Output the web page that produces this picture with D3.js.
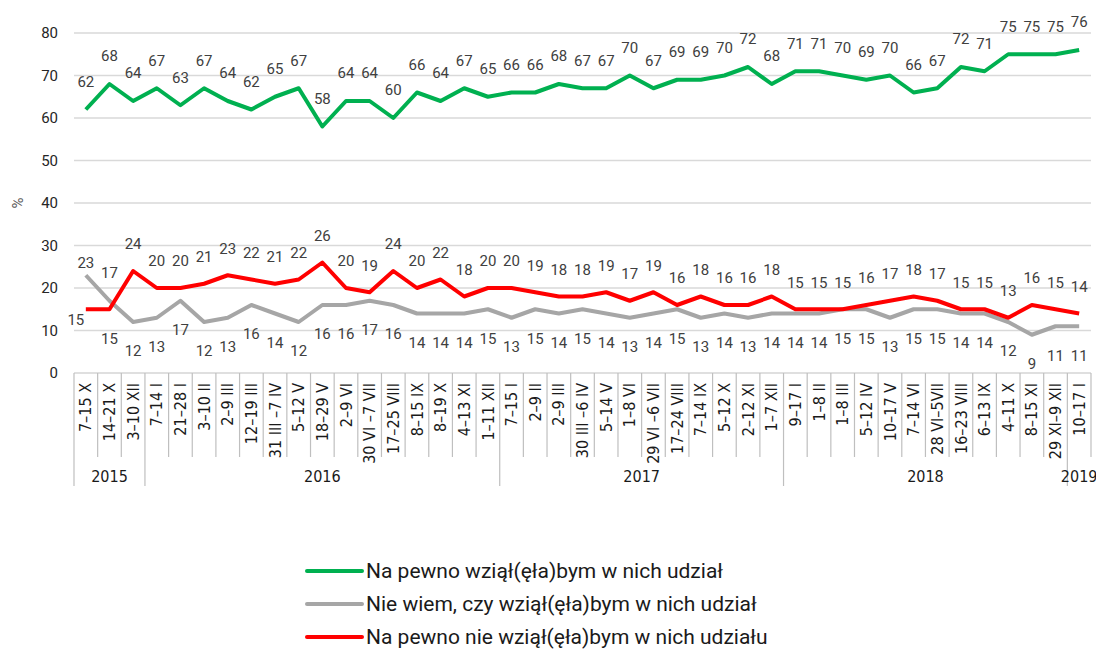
<!DOCTYPE html>
<html>
<head>
<meta charset="utf-8">
<script src="https://cdn.jsdelivr.net/npm/d3@7"></script>
<style>
  body { margin: 0; background: #fff; }
  svg { display: block; }
  .narrow { font-family: "Liberation Sans Narrow", "DejaVu Sans Condensed", "Roboto Condensed", sans-serif; }
</style>
</head>
<body>
<svg id="chart" width="1096" height="650"></svg>
<script>
// categories (survey dates) and years they belong to
const categories = [
  '7–15 X', '14–21 X', '3–10 XII',
  '7–14 I', '21–28 I', '3–10 II', '2–9 III', '12–19 III', '31 III –7 IV', '5–12 V', '18–29 V',
  '2–9 VI', '30 VI –7 VII', '17–25 VIII', '8–15 IX', '8–19 X', '4–13 XI', '1–11 XII',
  '7–15 I', '2–9 II', '2–9 III', '30 III –6 IV', '5–14 V', '1–8 VI', '29 VI –6 VII', '17–24 VIII',
  '7–14 IX', '5–12 X', '2–12 XI', '1–7 XII',
  '9–17 I', '1–8 II', '1–8 III', '5–12 IV', '10–17 V', '7–14 VI', '28 VI–5VII', '16–23 VIII',
  '6–13 IX', '4–11 X', '8–15 XI', '29 XI–9 XII',
  '10–17 I'
];
const years = ['2015', '2016', '2017', '2018', '2019'];
const yearSizes = [3, 15, 12, 12, 1];

const yTicks = [0, 10, 20, 30, 40, 50, 60, 70, 80];

const seriesNames = [
  'Na pewno wziął(ęła)bym w nich udział',
  'Nie wiem, czy wziął(ęła)bym w nich udział',
  'Na pewno nie wziął(ęła)bym w nich udziału'
];
const sureYes = [62, 68, 64, 67, 63, 67, 64, 62, 65, 67, 58, 64, 64, 60, 66, 64, 67, 65,
  66, 66, 68, 67, 67, 70, 67, 69, 69, 70, 72, 68,
  71, 71, 70, 69, 70, 66, 67, 72, 71, 75, 75, 75, 76];
const dontKnow = [23, 17, 12, 13, 17, 12, 13, 16, 14, 12, 16, 16, 17, 16, 14, 14, 14, 15,
  13, 15, 14, 15, 14, 13, 14, 15, 13, 14, 13, 14,
  14, 14, 15, 15, 13, 15, 15, 14, 14, 12, 9, 11, 11];
const sureNo = [15, 15, 24, 20, 20, 21, 23, 22, 21, 22, 26, 20, 19, 24, 20, 22, 18, 20,
  20, 19, 18, 18, 19, 17, 19, 16, 18, 16, 16, 18,
  15, 15, 15, 16, 17, 18, 17, 15, 15, 13, 16, 15, 14];

const colors = ['#00b050', '#a6a6a6', '#ff0000'];

const svg = d3.select('#chart');

const x = d3.scaleBand()
  .domain(d3.range(categories.length))
  .range([74, 1091]);
const y = d3.scaleLinear()
  .domain([0, 80])
  .range([373, 33]);

// gridlines
svg.append('g')
  .selectAll('line')
  .data(yTicks.filter(d => d > 0))
  .enter().append('line')
  .attr('x1', x.range()[0]).attr('x2', x.range()[1])
  .attr('y1', d => y(d)).attr('y2', d => y(d))
  .attr('stroke', '#d9d9d9')
  .attr('stroke-width', 1.5);

// y axis labels
const yAxis = svg.append('g')
  .attr('transform', `translate(${x.range()[0]},0)`)
  .call(d3.axisLeft(y).tickValues(yTicks).tickSize(0).tickPadding(16));
yAxis.select('.domain').remove();
yAxis.selectAll('text')
  .attr('font-family', 'Roboto, sans-serif')
  .attr('font-size', 15)
  .attr('fill', '#262626');

svg.append('text')
  .attr('transform', `translate(18,${y(40)}) rotate(-90)`)
  .attr('text-anchor', 'middle')
  .attr('dy', '0.35em')
  .attr('font-family', 'Roboto, sans-serif')
  .attr('font-size', 15)
  .attr('fill', '#595959')
  .text('%');

// category axis (two-level box)
const axisY = y(0);
const tickBottom = 457;
const yearBottom = 486;
const cat = svg.append('g').attr('stroke', '#bfbfbf').attr('stroke-width', 1.2);
cat.append('line')
  .attr('x1', x.range()[0]).attr('x2', x.range()[1])
  .attr('y1', axisY).attr('y2', axisY);

let cum = 0;
const yearStarts = yearSizes.map(s => { const c = cum; cum += s; return c; });
const yearEdges = new Set(yearStarts);

d3.range(categories.length + 1).forEach(i => {
  const xi = i < categories.length ? x(i) : x.range()[1];
  const longLine = yearEdges.has(i);
  cat.append('line')
    .attr('x1', xi).attr('x2', xi)
    .attr('y1', axisY)
    .attr('y2', longLine ? yearBottom : tickBottom);
});

svg.append('g')
  .selectAll('text')
  .data(categories)
  .enter().append('text')
  .attr('class', 'narrow')
  .attr('transform', (d, i) => `translate(${x(i) + x.bandwidth() / 2},383) rotate(-90)`)
  .attr('text-anchor', 'end')
  .attr('dy', '0.35em')
  .attr('font-size', 16)
  .attr('fill', '#1a1a1a')
  .text(d => d);

svg.append('g')
  .selectAll('text')
  .data(years)
  .enter().append('text')
  .attr('class', 'narrow')
  .attr('x', (d, i) => {
    const a = x(yearStarts[i]);
    const b = x(yearStarts[i] + yearSizes[i] - 1) + x.bandwidth();
    return (a + b) / 2;
  })
  .attr('y', 476)
  .attr('dy', '0.35em')
  .attr('text-anchor', 'middle')
  .attr('font-size', 16)
  .attr('fill', '#1a1a1a')
  .text(d => d);

// lines
const allSeries = [sureYes, dontKnow, sureNo];
const line = d3.line()
  .x((d, i) => x(i) + x.bandwidth() / 2)
  .y(d => y(d));

svg.append('g')
  .selectAll('path')
  .data(allSeries)
  .enter().append('path')
  .attr('d', line)
  .attr('fill', 'none')
  .attr('stroke', (d, i) => colors[i])
  .attr('stroke-width', 4)
  .attr('stroke-linejoin', 'round');

// data labels
function labelOffset(s, i) {
  if (s === 0) return [0, -28];
  if (s === 1) {
    if (i === 0) return [0, -13];
    if (i === 1) return [0, -28];
    return [0, 29];
  }
  if (i === 0) return [-10, 10];
  if (i === 1) return [0, 29];
  return [0, -27];
}

allSeries.forEach((vals, s) => {
  svg.append('g')
    .selectAll('text')
    .data(vals)
    .enter().append('text')
    .attr('x', (d, i) => x(i) + x.bandwidth() / 2 + labelOffset(s, i)[0])
    .attr('y', (d, i) => y(d) + labelOffset(s, i)[1])
    .attr('dy', '0.35em')
    .attr('text-anchor', 'middle')
    .attr('font-family', 'Roboto, sans-serif')
    .attr('font-size', 15)
    .attr('fill', '#404040')
    .text(d => d);
});

// legend
const legend = svg.append('g')
  .selectAll('g')
  .data(seriesNames)
  .enter().append('g')
  .attr('transform', (d, i) => `translate(307,${571 + i * 33})`);
legend.append('line')
  .attr('x1', 0).attr('x2', 55)
  .attr('stroke', (d, i) => colors[i])
  .attr('stroke-width', 4)
  .attr('stroke-linecap', 'round');
legend.append('text')
  .attr('x', 59)
  .attr('dy', '0.35em')
  .attr('font-family', 'Roboto, sans-serif')
  .attr('font-size', 21)
  .attr('fill', '#1a1a1a')
  .text(d => d);
</script>
</body>
</html>
